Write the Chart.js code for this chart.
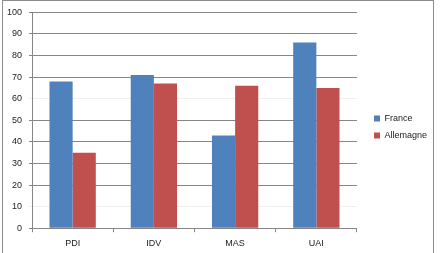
<!DOCTYPE html>
<html>
<head>
<meta charset="utf-8">
<script src="https://cdn.jsdelivr.net/npm/chart.js@4"></script>
<style>
  html, body { margin: 0; padding: 0; background: #fff; }
  .wrap { position: relative; width: 448px; height: 253px; overflow: hidden; }
  .frame { position: absolute; left: 2px; top: 0; width: 430px; height: 270px; border: 1px solid #8c8c8c; pointer-events: none; }
  canvas { position: absolute; left: 0; top: 0; }
</style>
</head>
<body>
<div class="wrap">
  <canvas id="chart" width="448" height="257"></canvas>
  <div class="frame"></div>
</div>
<script>
const categories = ['PDI', 'IDV', 'MAS', 'UAI'];
const france = [68, 71, 43, 86];
const allemagne = [35, 67, 66, 65];
const yTicks = [0, 10, 20, 30, 40, 50, 60, 70, 80, 90, 100];

const ctx = document.getElementById('chart').getContext('2d');
const font = { family: 'Liberation Sans', size: 9 };

// leave a gap between the plot and the legend, then push the legend items right
const legendGap = {
  id: 'legendGap',
  beforeInit(chart) {
    const fit = chart.legend.fit;
    chart.legend.fit = function () {
      fit.call(this);
      this.width += 9;
    };
  },
  afterLayout(chart) {
    chart.legend.left += 9;
    chart.legend.right += 9;
    chart.legend.top -= 4;
    chart.legend.bottom -= 4;
  },
};

const data = {
  labels: categories,
  datasets: [
    {
      label: 'France',
      backgroundColor: '#4F81BD',
      borderWidth: 0,
      data: france,
    },
    {
      label: 'Allemagne',
      backgroundColor: '#C0504D',
      borderWidth: 0,
      data: allemagne,
    },
  ],
};

new Chart(ctx, {
  type: 'bar',
  data: data,
  plugins: [legendGap],
  options: {
    responsive: false,
    animation: false,
    layout: { padding: { top: 7, left: 0, right: 11, bottom: 2 } },
    datasets: { bar: { categoryPercentage: 0.57, barPercentage: 1 } },
    plugins: {
      tooltip: { enabled: false },
      legend: {
        position: 'right',
        labels: {
          boxWidth: 6,
          boxHeight: 6,
          padding: 8,
          color: '#222',
          font: font,
        },
      },
    },
    scales: {
      x: {
        grid: { drawOnChartArea: false, tickLength: 4, color: '#868686', offset: true },
        border: { color: '#868686' },
        ticks: { color: '#222', font: font, padding: 6 },
      },
      y: {
        min: 0,
        max: 100,
        afterBuildTicks: (axis) => { axis.ticks = yTicks.map(v => ({ value: v })); },
        grid: {
          tickLength: 3,
          color: (c) => (c.tick && (c.tick.value === 60 || c.tick.value === 10)) ? '#f0f0f0' : '#868686',
        },
        border: { color: '#868686' },
        ticks: { color: '#222', font: font, padding: 7 },
      },
    },
  },
});
</script>
</body>
</html>
